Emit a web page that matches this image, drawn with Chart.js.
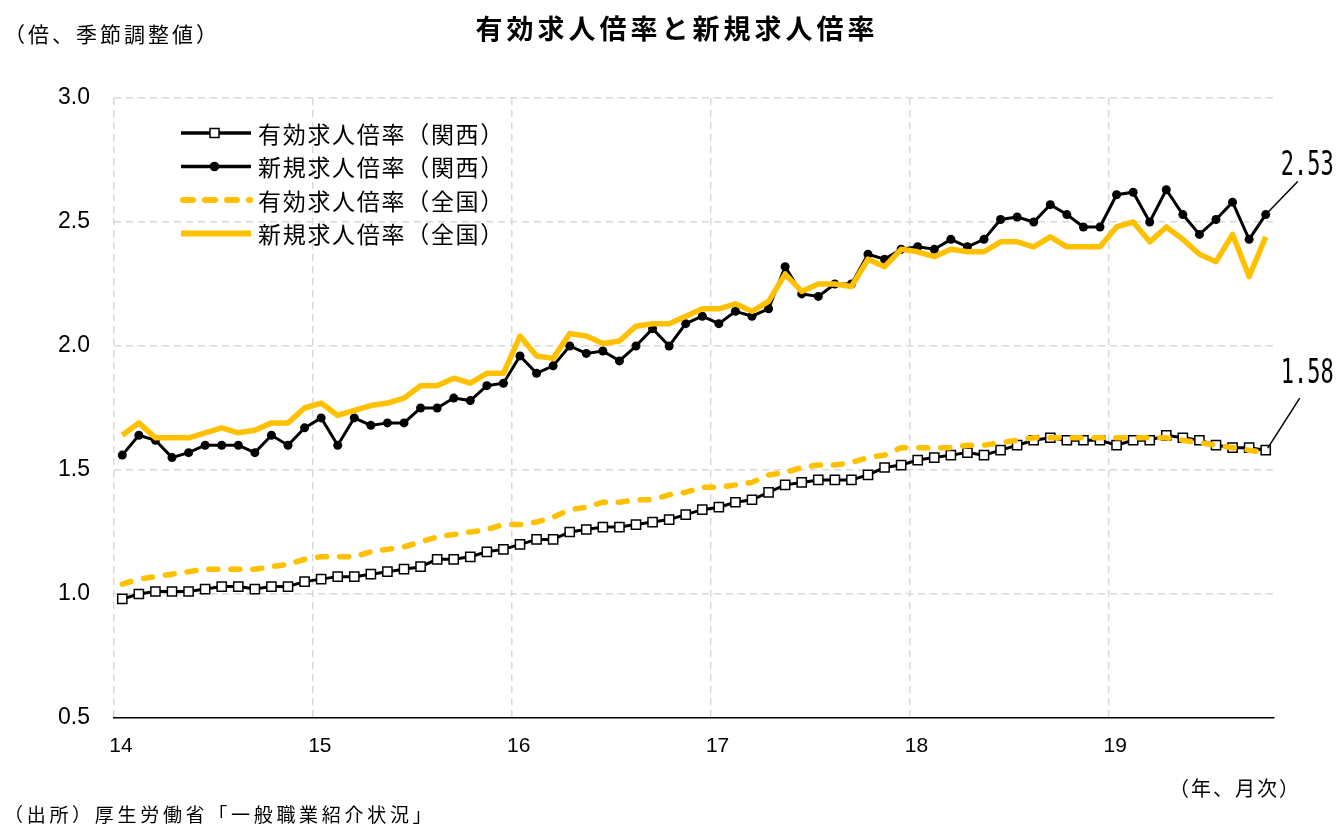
<!DOCTYPE html>
<html><head><meta charset="utf-8">
<script src="https://cdn.jsdelivr.net/npm/chart.js@4.4.1/dist/chart.umd.min.js"></script>
<style>html,body{margin:0;padding:0;background:#fff;} #wrap{position:relative;width:1341px;height:827px;}</style>
</head><body><div id="wrap"><canvas id="c" width="1341" height="827"></canvas></div>
<script>
// ---- data (2014/1 - 2019/10, monthly) ----
const yearLabels = ['14','15','16','17','18','19'];
const yTickValues = [0.5, 1.0, 1.5, 2.0, 2.5, 3.0];
const legendLabels = ['有効求人倍率（関西）','新規求人倍率（関西）','有効求人倍率（全国）','新規求人倍率（全国）'];

const kansaiEffective = [
  0.98,1.00,1.01,1.01,1.01,1.02,1.03,1.03,1.02,1.03,1.03,1.05,
  1.06,1.07,1.07,1.08,1.09,1.10,1.11,1.14,1.14,1.15,1.17,1.18,
  1.20,1.22,1.22,1.25,1.26,1.27,1.27,1.28,1.29,1.30,1.32,1.34,
  1.35,1.37,1.38,1.41,1.44,1.45,1.46,1.46,1.46,1.48,1.51,1.52,
  1.54,1.55,1.56,1.57,1.56,1.58,1.60,1.62,1.63,1.62,1.62,1.62,
  1.60,1.62,1.62,1.64,1.63,1.62,1.60,1.59,1.59,1.58
];
const kansaiNew = [
  1.56,1.64,1.62,1.55,1.57,1.60,1.60,1.60,1.57,1.64,1.60,1.67,
  1.71,1.60,1.71,1.68,1.69,1.69,1.75,1.75,1.79,1.78,1.84,1.85,
  1.96,1.89,1.92,2.00,1.97,1.98,1.94,2.00,2.07,2.00,2.09,2.12,
  2.09,2.14,2.12,2.15,2.32,2.21,2.20,2.25,2.25,2.37,2.35,2.39,
  2.40,2.39,2.43,2.40,2.43,2.51,2.52,2.50,2.57,2.53,2.48,2.48,
  2.61,2.62,2.50,2.63,2.53,2.45,2.51,2.58,2.43,2.53
];
const nationalEffective = [
  1.04,1.06,1.07,1.08,1.09,1.10,1.10,1.10,1.10,1.11,1.12,1.14,
  1.15,1.15,1.15,1.17,1.18,1.19,1.21,1.23,1.24,1.25,1.26,1.28,
  1.28,1.29,1.31,1.34,1.35,1.37,1.37,1.38,1.38,1.40,1.41,1.43,
  1.43,1.44,1.45,1.48,1.49,1.51,1.52,1.52,1.53,1.55,1.56,1.59,
  1.59,1.59,1.59,1.60,1.60,1.61,1.62,1.63,1.63,1.63,1.63,1.63,
  1.63,1.63,1.63,1.63,1.62,1.61,1.60,1.59,1.58,1.57
];
const nationalNew = [
  1.64,1.69,1.63,1.63,1.63,1.65,1.67,1.65,1.66,1.69,1.69,1.75,
  1.77,1.72,1.74,1.76,1.77,1.79,1.84,1.84,1.87,1.85,1.89,1.89,
  2.04,1.96,1.95,2.05,2.04,2.01,2.02,2.08,2.09,2.09,2.12,2.15,
  2.15,2.17,2.14,2.18,2.29,2.22,2.25,2.25,2.24,2.35,2.32,2.39,
  2.38,2.36,2.39,2.38,2.38,2.42,2.42,2.40,2.44,2.40,2.40,2.40,
  2.48,2.50,2.42,2.48,2.43,2.37,2.34,2.45,2.28,2.44
];

const titleText = '有効求人倍率と新規求人倍率';
const unitText = '（倍、季節調整値）';
const xUnitText = '（年、月次）';
const sourceText = '（出所）厚生労働省「一般職業紹介状況」';

// ---- styles ----
const YELLOW = '#FFC000';
const CJK = '"Noto Sans CJK JP", "Noto Sans CJK SC", sans-serif';
const LAT = '"Liberation Sans", Arial, sans-serif';
const mk = arr => arr.map((v, i) => ({x: i + 0.5, y: v}));

const styles = [
  {color:'#000', width:3.5, dash:[], marker:'rect'},
  {color:'#000', width:3.5, dash:[], marker:'circle'},
  {color:YELLOW, width:6, dash:[10,12], marker:null},
  {color:YELLOW, width:6, dash:[], marker:null}
];

const textPlugin = {
  id: 'texts',
  afterDraw(chart) {
    const ctx = chart.ctx;
    ctx.save();
    ctx.fillStyle = '#000';
    ctx.textBaseline = 'middle';
    // title
    ctx.font = 'bold 27px ' + CJK;
    ctx.letterSpacing = '4px';
    ctx.textAlign = 'center';
    ctx.fillText(titleText, 677, 29);
    // unit
    ctx.font = '21px ' + CJK;
    ctx.letterSpacing = '3px';
    ctx.textAlign = 'left';
    ctx.fillText(unitText, 4, 34);
    // x unit
    ctx.font = '20px ' + CJK;
    ctx.letterSpacing = '2px';
    ctx.fillText(xUnitText, 1169, 788);
    // source
    ctx.font = '19px ' + CJK;
    ctx.letterSpacing = '3.7px';
    ctx.fillText(sourceText, 4, 815);

    // legend
    ctx.font = '23px ' + CJK;
    ctx.letterSpacing = '1.7px';
    const rowY = [133, 166.5, 200, 233.5];
    for (let k = 0; k < 4; k++) {
      const st = styles[k], y = rowY[k];
      ctx.save();
      ctx.strokeStyle = st.color;
      ctx.lineWidth = st.width;
      ctx.setLineDash(st.dash);
      ctx.lineCap = st.dash.length ? 'round' : 'butt';
      ctx.beginPath();
      if (st.dash.length) { ctx.moveTo(183, y); ctx.lineTo(250, y); }
      else { ctx.moveTo(181, y); ctx.lineTo(251, y); }
      ctx.stroke();
      ctx.setLineDash([]);
      if (st.marker === 'rect') {
        ctx.fillStyle = '#fff'; ctx.lineWidth = 1.5; ctx.strokeStyle = '#000';
        ctx.fillRect(210, y - 4.5, 9, 9); ctx.strokeRect(210, y - 4.5, 9, 9);
      } else if (st.marker === 'circle') {
        ctx.fillStyle = '#000'; ctx.beginPath(); ctx.arc(214.5, y, 4.8, 0, Math.PI * 2); ctx.fill();
      }
      ctx.restore();
      ctx.fillText(legendLabels[k], 258, y + 1);
    }

    // end-value annotations
    const xs = chart.scales.x, ys = chart.scales.y;
    const anns = [
      {arr: kansaiNew, dx: 32, dy: -33, tx: 15, ty: -40},
      {arr: kansaiEffective, dx: 34, dy: -52, tx: 15, ty: -67}
    ];
    ctx.letterSpacing = '0px';
    anns.forEach(a => {
      const last = a.arr.length - 1;
      const px = xs.getPixelForValue(last + 0.5), py = ys.getPixelForValue(a.arr[last]);
      ctx.strokeStyle = '#000'; ctx.lineWidth = 1.5;
      ctx.beginPath(); ctx.moveTo(px + 2, py - 2); ctx.lineTo(px + a.dx, py + a.dy); ctx.stroke();
      ctx.save();
      ctx.translate(px + a.tx, py + a.ty);
      ctx.scale(1, 1.5);
      ctx.font = '22px "DejaVu Sans Mono", monospace';
      ctx.textAlign = 'left'; ctx.textBaseline = 'alphabetic';
      ctx.fillText(a.arr[last].toFixed(2), 0, 0);
      ctx.restore();
    });
    ctx.restore();
  }
};

new Chart(document.getElementById('c'), {
  type: 'line',
  data: {
    datasets: [
      {label: legendLabels[3], data: mk(nationalNew), borderColor: YELLOW, borderWidth: 5.5,
       pointRadius: 0, borderJoinStyle: 'round', order: 0},
      {label: legendLabels[2], data: mk(nationalEffective), borderColor: YELLOW, borderWidth: 5.5,
       borderDash: [9, 13], borderCapStyle: 'round', pointRadius: 0, order: 1},
      {label: legendLabels[1], data: mk(kansaiNew), borderColor: '#000', borderWidth: 3,
       pointStyle: 'circle', pointRadius: 4.5, pointBackgroundColor: '#000', pointBorderWidth: 0, order: 2},
      {label: legendLabels[0], data: mk(kansaiEffective), borderColor: '#000', borderWidth: 3,
       pointStyle: 'rect', pointRadius: 6.5, pointBackgroundColor: '#fff', pointBorderColor: '#000',
       pointBorderWidth: 1.5, order: 3}
    ]
  },
  options: {
    responsive: false,
    animation: false,
    events: [],
    devicePixelRatio: 1,
    layout: {padding: {top: 98, right: 67, left: 0, bottom: 0}},
    plugins: {legend: {display: false}, tooltip: {enabled: false}, title: {display: false}},
    scales: {
      x: {
        type: 'linear', min: 0, max: 70,
        afterBuildTicks: s => { s.ticks = [0, 12, 24, 36, 48, 60].map(v => ({value: v})); },
        ticks: {callback: (v, i) => yearLabels[i], font: {family: LAT, size: 21}, color: '#000',
                padding: 16, labelOffset: 7, maxRotation: 0, autoSkip: false},
        grid: {color: '#d9d9d9', lineWidth: 1.5, drawTicks: false},
        border: {display: true, color: '#000', width: 1.5, dash: [7, 5]},
        afterFit: s => { s.height = 109; }
      },
      y: {
        min: 0.5, max: 3.0,
        afterBuildTicks: s => { s.ticks = yTickValues.map(v => ({value: v})); },
        ticks: {callback: v => v.toFixed(1), font: {family: LAT, size: 23}, color: '#000', padding: 24},
        grid: {color: c => (c.tick && c.tick.value === 0.5) ? 'rgba(0,0,0,0)' : '#d9d9d9',
               lineWidth: 1.5, drawTicks: false},
        border: {display: false, dash: [7, 5]},
        afterFit: s => { s.width = 114; }
      }
    }
  },
  plugins: [textPlugin]
});
</script>
</body></html>
